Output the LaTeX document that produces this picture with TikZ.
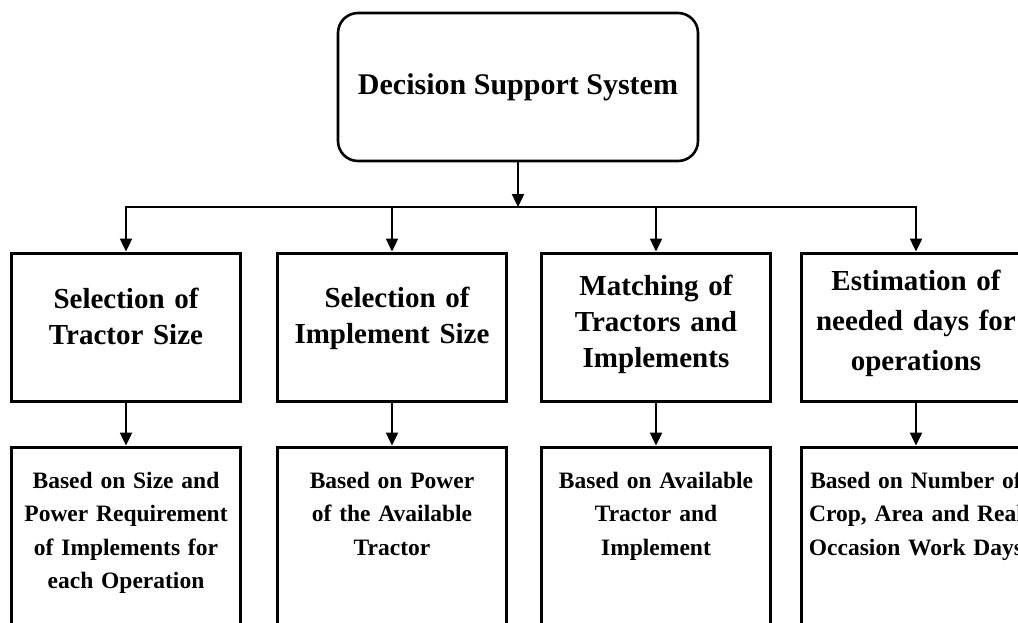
\documentclass[tikz,border=0pt]{standalone}
\usepackage{fontspec}
\setmainfont{Liberation Serif}
\usetikzlibrary{arrows.meta}

\begin{document}
\begin{tikzpicture}[
        x=1pt, y=1pt,
        dss/.style={rectangle, draw, line width=2.6pt, rounded corners=20pt, minimum width=360pt, minimum height=148pt, font=\fontsize{30}{36}\selectfont\bfseries},
        stage/.style 2 args={rectangle, draw, line width=3pt, inner sep=0pt, text width=229pt, align=center, text height=#1, text depth=#2, font=\fontsize{29}{36}\selectfont\bfseries},
        basis/.style={rectangle, draw, line width=3pt, inner sep=0pt, text width=229pt, align=center, text height=41pt, text depth=200pt, font=\fontsize{23.5}{33.5}\selectfont\bfseries},
        line/.style={line width=2.4pt},
        arrow/.style={line, -{Triangle[width=12pt,length=13pt]}}
    ]
        \useasboundingbox (0,0) rectangle (1018,-622);
        \clip (0,0) rectangle (1018,-622);

        % Top
        \node[dss] (dss) at (518,-87) {Decision Support System};
        \coordinate (bus) at (518,-207);

        % Tasks
        \node[stage={55pt}{93pt}] (tractor) at (126,-327) {Selection of\\Tractor Size};
        \node[stage={54pt}{94pt}] (implement) at (392,-327) {\hspace*{10pt}Selection of\\Implement Size};
        \node[stage={42pt}{106pt}] (matching) at (656,-327) {Matching of\\Tractors and\\Implements};
        \node[stage={37pt}{111pt}, font=\fontsize{29}{40}\selectfont\bfseries] (days) at (916,-327) {Estimation of\\needed days for\\operations};

        % Bases
        \node[basis] (tractorbasis) at (126,-567.5) {Based on Size and\\Power Requirement\\of Implements for\\each Operation};
        \node[basis] (implementbasis) at (392,-567.5) {Based on Power\\of the Available\\Tractor};
        \node[basis] (matchingbasis) at (656,-567.5) {Based on Available\\Tractor and\\Implement};
        \node[basis] (daysbasis) at (916,-567.5) {Based on Number of\\Crop, Area and Real\\Occasion Work Days};

        % Arrows
        \draw[arrow] (dss) -- (bus);
        \draw[line, line cap=rect] (bus -| tractor) -- (bus -| days);
        \foreach \task in {tractor, implement, matching, days} {
            \draw[arrow] (bus -| \task) -- (\task);
            \draw[arrow] (\task) -- (\task basis);
        }

    \end{tikzpicture}
\end{document}
